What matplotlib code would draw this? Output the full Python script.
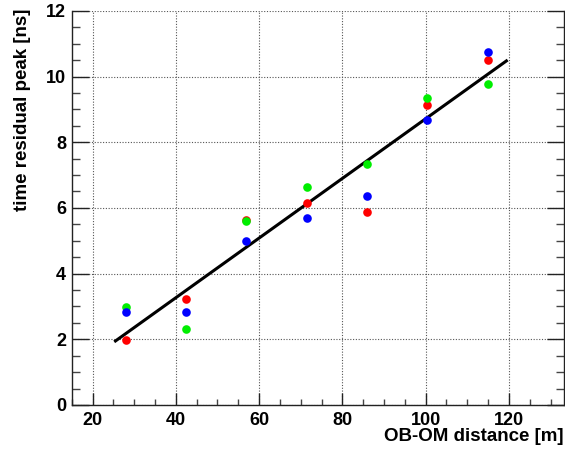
import matplotlib
matplotlib.use("Agg")
import matplotlib.pyplot as plt
import numpy as np
from matplotlib.ticker import MultipleLocator

plt.rcParams['font.family'] = ['Liberation Sans', 'DejaVu Sans']

# OB-OM distances [m]
distance = [28.0, 42.4, 56.9, 71.5, 86.0, 100.4, 115.0]

# time residual peak [ns] per colour series
peak_red = [1.97, 3.22, 5.64, 6.14, 5.87, 9.13, 10.51]
peak_green = [2.99, 2.31, 5.60, 6.64, 7.35, 9.36, 9.78]
peak_blue = [2.84, 2.82, 5.00, 5.68, 6.35, 8.69, 10.75]

# linear fit: peak = slope * distance + offset
fit_slope = 0.0908
fit_offset = -0.366
fit_range = [25.5, 119.4]

W, H = 565, 451
fig = plt.figure(figsize=(W / 100, H / 100), dpi=100)
ax = fig.add_axes([0.127, 0.102, 0.871, 0.874])

ax.set_xlim(15, 133.2)
ax.set_ylim(0, 12)

ax.grid(True, which='major', linestyle=(0, (1, 1.5)), color='#555555', linewidth=0.8)
ax.set_axisbelow(True)

xf = np.array(fit_range)
ax.plot(xf, fit_slope * xf + fit_offset, color='black', lw=2.2, zorder=3)

for vals, col in [(peak_red, '#ff0000'), (peak_green, '#00ee00'), (peak_blue, '#0000ff')]:
    ax.plot(distance, vals, 'o', color=col, markersize=6.2, markeredgewidth=0, zorder=4)

ax.xaxis.set_major_locator(MultipleLocator(20))
ax.xaxis.set_minor_locator(MultipleLocator(5))
ax.yaxis.set_major_locator(MultipleLocator(2))
ax.yaxis.set_minor_locator(MultipleLocator(0.5))

ax.tick_params(axis='both', which='both', direction='in', labelsize=13)
ax.tick_params(axis='x', which='major', length=9, width=1, color='#222222', top=False, pad=5)
ax.tick_params(axis='x', which='minor', length=4.5, width=1, color='#444444', top=False)
ax.tick_params(axis='y', which='major', length=12, width=1, color='#222222', right=True, pad=4)
ax.tick_params(axis='y', which='minor', length=6, width=1, color='#444444', right=True)
for lab in ax.get_xticklabels() + ax.get_yticklabels():
    lab.set_fontweight('bold')

for side in ['left', 'bottom', 'right']:
    ax.spines[side].set_color('#222222')
    ax.spines[side].set_linewidth(1.0)
ax.spines['top'].set_visible(False)

# axis titles, right/top aligned in ROOT style
fig.text(563 / W, 1 - 428 / H, 'OB-OM distance [m]', fontsize=13.5, fontweight='bold',
         ha='right', va='top')
fig.text(23 / W, 1 - 9 / H, 'time residual peak [ns]', fontsize=13.5, fontweight='bold',
         rotation=90, ha='center', va='top')

fig.savefig('out.png', dpi=100)
